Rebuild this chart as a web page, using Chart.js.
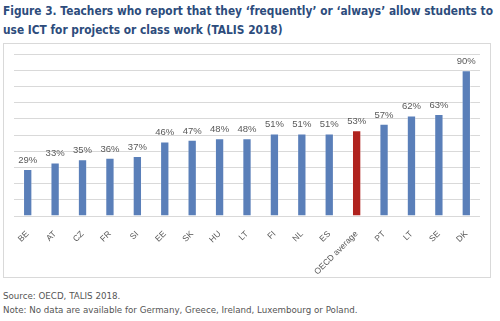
<!DOCTYPE html>
<html lang="en">
<head>
<meta charset="UTF-8">
<title>Teachers using ICT (TALIS 2018)</title>
<script src="https://cdn.jsdelivr.net/npm/chart.js@4.4.1/dist/chart.umd.min.js"></script>
<style>
    body {
        margin: 0;
        width: 500px;
        height: 321px;
        background: #fff;
        font-family: 'DejaVu Sans', Verdana, sans-serif;
        position: relative;
        overflow: hidden;
    }
    .title {
        position: absolute;
        left: 3px;
        top: 1px;
        font-weight: bold;
        font-size: 12.5px;
        line-height: 19px;
        color: #2d4c7c;
        white-space: nowrap;
        transform-origin: 0 0;
    }
    .box {
        position: absolute;
        left: 3px;
        top: 43px;
        width: 486px;
        height: 233px;
        border: 1px solid #d9d9d9;
    }
    .note {
        position: absolute;
        left: 3px;
        font-size: 8.7px;
        color: #555;
        white-space: nowrap;
    }
</style>
</head>
<body>
    <div class="title" id="title">Figure 3. Teachers who report that they ‘frequently’ or ‘always’ allow students to<br>use ICT for projects or class work (TALIS 2018)</div>
    <div class="box">
        <canvas id="chart"></canvas>
    </div>
    <div class="note" style="top: 291px;">Source: OECD, TALIS 2018.</div>
    <div class="note" style="top: 305px;">Note: No data are available for Germany, Greece, Ireland, Luxembourg or Poland.</div>

<script>
    const countries = ['BE', 'AT', 'CZ', 'FR', 'SI', 'EE', 'SK', 'HU', 'LT', 'FI', 'NL', 'ES', 'OECD average', 'PT', 'LT', 'SE', 'DK'];
    const shares = [29, 33, 35, 36, 37, 46, 47, 48, 48, 51, 51, 51, 53, 57, 62, 63, 90];
    const highlight = 'OECD average';

    // squeeze the title to the width it has in the figure
    const title = document.getElementById('title');
    const tw = title.getBoundingClientRect().width;
    title.style.transform = 'scaleX(' + (490 / tw) + ')';

    const barColors = countries.map(c => c === highlight ? '#b0231e' : '#5a7fb9');

    // percent labels above the bars
    const valueLabels = {
        id: 'valueLabels',
        afterDatasetsDraw(chart) {
            const ctx = chart.ctx;
            const meta = chart.getDatasetMeta(0);
            ctx.save();
            ctx.font = '9.5px "Liberation Sans", Arial, sans-serif';
            ctx.fillStyle = '#595959';
            ctx.textAlign = 'center';
            ctx.textBaseline = 'bottom';
            meta.data.forEach((bar, i) => {
                ctx.fillText(shares[i] + '%', bar.x, bar.y - 4);
            });
            ctx.restore();
        }
    };

    new Chart(document.getElementById('chart'), {
        type: 'bar',
        data: {
            labels: countries,
            datasets: [{
                data: shares,
                backgroundColor: barColors,
                borderColor: 'rgba(255,255,255,0.35)',
                borderWidth: 1,
                categoryPercentage: 1,
                barPercentage: 0.34
            }]
        },
        options: {
            responsive: true,
            maintainAspectRatio: false,
            animation: false,
            layout: { padding: { left: 10, right: 10, top: 10, bottom: 0 } },
            plugins: {
                legend: { display: false },
                tooltip: { enabled: false }
            },
            scales: {
                x: {
                    grid: { display: false },
                    border: { display: false },
                    afterFit(scale) { scale.height = 61; },
                    ticks: {
                        minRotation: 45,
                        maxRotation: 45,
                        autoSkip: false,
                        padding: 5,
                        color: '#595959',
                        font: { family: '"Liberation Sans", Arial, sans-serif', size: 8.5 }
                    }
                },
                y: {
                    min: 0,
                    max: 100,
                    afterFit(scale) { scale.width = 0; },
                    ticks: { display: false, stepSize: 10 },
                    border: { display: false },
                    grid: { color: '#d9d9d9', lineWidth: 1, drawTicks: false }
                }
            }
        },
        plugins: [valueLabels]
    });
</script>
</body>
</html>
